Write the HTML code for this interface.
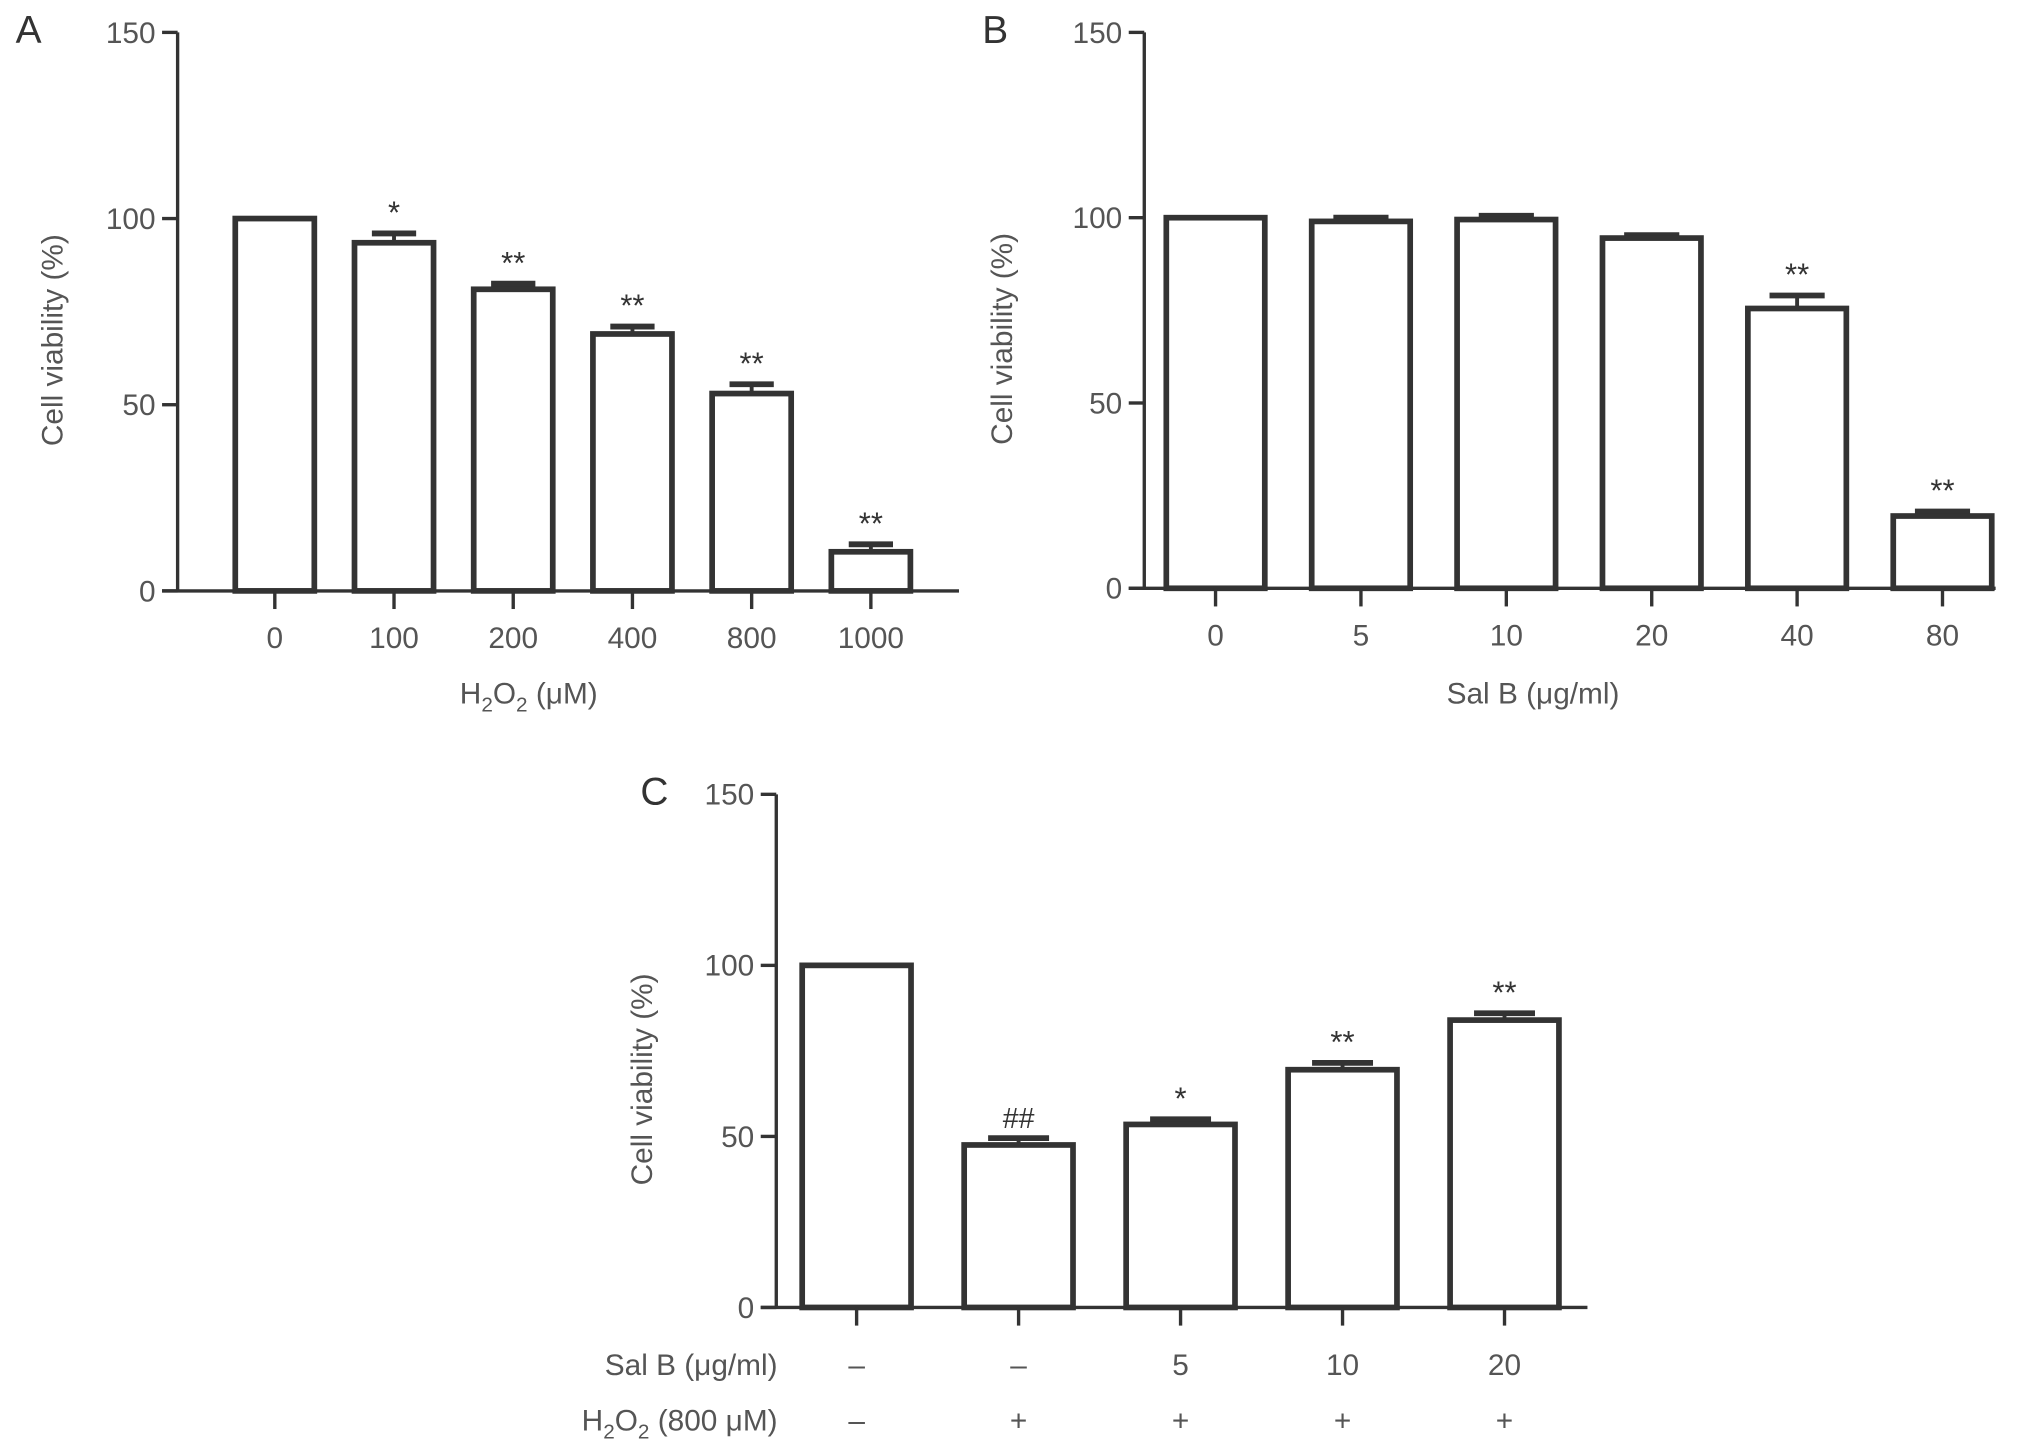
<!DOCTYPE html>
<html><head><meta charset="utf-8"><style>
html,body{margin:0;padding:0;background:#fff;width:2032px;height:1450px;overflow:hidden}
svg{display:block}
text{font-family:"Liberation Sans",sans-serif;fill:#555}
</style></head><body>
<svg id="fig" width="2032" height="1450" viewBox="0 0 1568 1119"></svg>
<script>
// Panel A data
const catsA = ["0","100","200","400","800","1000"];
const valsA = [100, 93.5, 81, 69, 53, 10.5];
const errA = [0, 2.5, 1.5, 2, 2.5, 2];
const sigA = ["","*","**","**","**","**"];
// Panel B data
const catsB = ["0","5","10","20","40","80"];
const valsB = [100, 99, 99.5, 94.5, 75.5, 19.5];
const errB = [0, 1, 1, 0.8, 3.5, 1.2];
const sigB = ["","","","","**","**"];
// Panel C data
const salC = ["\u2013","\u2013","5","10","20"];
const h2o2C = ["\u2013","+","+","+","+"];
const valsC = [100, 47.5, 53.5, 69.5, 84];
const errC = [0, 2, 1.5, 2, 2];
const sigC = ["","##","*","**","**"];
const yTicks = [0, 50, 100, 150];

const NS = "http://www.w3.org/2000/svg";
const svg = document.getElementById("fig");
function mk(tag, attrs, parent, txt){
  const e = document.createElementNS(NS, tag);
  for (const k in attrs) e.setAttribute(k, attrs[k]);
  if (txt !== undefined) e.textContent = txt;
  (parent || svg).appendChild(e);
  return e;
}

function panel(cfg){
  const g = mk("g", {});
  
  
  const y = v => cfg.y0 - (v/150)*(cfg.y0 - cfg.y150);
  const n = cfg.vals.length;
  const x = i => cfg.c0 + i*(cfg.c1 - cfg.c0)/(n-1);
  // y axis
  const ya = mk("line", {x1:cfg.ax, y1:cfg.y150, x2:cfg.ax, y2:cfg.y0+1, stroke:"#333","stroke-width":2.6}, g);
  
  
  yTicks.forEach(t => {
    const tk = mk("line", {x1:cfg.ax-12, y1:y(t), x2:cfg.ax, y2:y(t), stroke:"#333","stroke-width":2.6}, g);
    
    
    const tl = mk("text", {x:cfg.ax-17, y:y(t)+8, "text-anchor":"end","font-size":23}, g, String(t));
    
    
  });
  const xa = mk("line", {x1:cfg.ax-12, y1:cfg.y0, x2:cfg.xEnd, y2:cfg.y0, stroke:"#333","stroke-width":2.6}, g);
  
  
  cfg.vals.forEach((v,i) => {
    const cx = x(i), w = cfg.bw;
    const e = cfg.err[i];
    if (e > 0){
      const el = mk("line", {x1:cx, y1:y(v), x2:cx, y2:y(v+e), stroke:"#333","stroke-width":3}, g);
      
      
      const cap = mk("line", {x1:cx-w*0.28, y1:y(v+e), x2:cx+w*0.28, y2:y(v+e), stroke:"#333","stroke-width":4.5}, g);
      
      
    }
    const r = mk("rect", {x:cx-w/2, y:y(v), width:w, height:cfg.y0-y(v), fill:"#fff", stroke:"#333","stroke-width":4.4}, g);
    
    
    const tk = mk("line", {x1:cx, y1:cfg.y0, x2:cx, y2:cfg.y0+14, stroke:"#333","stroke-width":2.6}, g);
    
    
    if (cfg.sig[i]){
      const s = mk("text", {x:cx, y:y(v+e)-8, "text-anchor":"middle","font-size":cfg.sig[i]==="##"?22:24, style:"fill:#333"}, g, cfg.sig[i]);
      
      
    }
    if (cfg.cats){
      const l = mk("text", {x:cx, y:cfg.y0+44, "text-anchor":"middle","font-size":23}, g, cfg.cats[i]);
      
      
    }
  });
  const yl = mk("text", {x:0, y:0, "text-anchor":"middle","font-size":23, transform:`translate(${cfg.ylx},${(cfg.y0+cfg.y150)/2+22}) rotate(-90)`}, g, "Cell viability (%)");
  
  
  const pl = mk("text", {x:cfg.lx, y:cfg.ly, "text-anchor":"middle","font-size":30, style:"fill:#333"}, g, cfg.letter);
  
  
  return {g, x, y};
}

const A = panel({name:"panel-a", ax:137, y150:25, y0:456, xEnd:740, c0:212, c1:672, bw:61, vals:valsA, err:errA, sig:sigA, cats:catsA, ylx:48, letter:"A", lx:22, ly:33});
const ta = mk("text", {x:408, y:543, "text-anchor":"middle","font-size":23}, A.g);
ta.innerHTML = 'H<tspan font-size="16" dy="6">2</tspan><tspan dy="-6">O</tspan><tspan font-size="16" dy="6">2</tspan><tspan dy="-6"> (μM)</tspan>';



const B = panel({name:"panel-b", ax:883, y150:25, y0:454, xEnd:1540, c0:938, c1:1499, bw:76, vals:valsB, err:errB, sig:sigB, cats:catsB, ylx:781, letter:"B", lx:768, ly:33});
const tb = mk("text", {x:1183, y:543, "text-anchor":"middle","font-size":23}, B.g, "Sal B (μg/ml)");



const C = panel({name:"panel-c", ax:599, y150:613, y0:1009, xEnd:1225, c0:661, c1:1161, bw:84, vals:valsC, err:errC, sig:sigC, cats:null, ylx:503, letter:"C", lx:505, ly:621});
const r1 = mk("text", {x:600, y:1061, "text-anchor":"end","font-size":23}, C.g, "Sal B (μg/ml)");


const r2 = mk("text", {x:600, y:1104, "text-anchor":"end","font-size":23}, C.g);
r2.innerHTML = 'H<tspan font-size="16" dy="6">2</tspan><tspan dy="-6">O</tspan><tspan font-size="16" dy="6">2</tspan><tspan dy="-6"> (800 μM)</tspan>';


salC.forEach((s,i) => {
  const t = mk("text", {x:C.x(i), y:1061, "text-anchor":"middle","font-size":23}, C.g, s);
  
  
});
h2o2C.forEach((s,i) => {
  const t = mk("text", {x:C.x(i), y:1104, "text-anchor":"middle","font-size":23}, C.g, s);
  
  
});
</script>
</body></html>
